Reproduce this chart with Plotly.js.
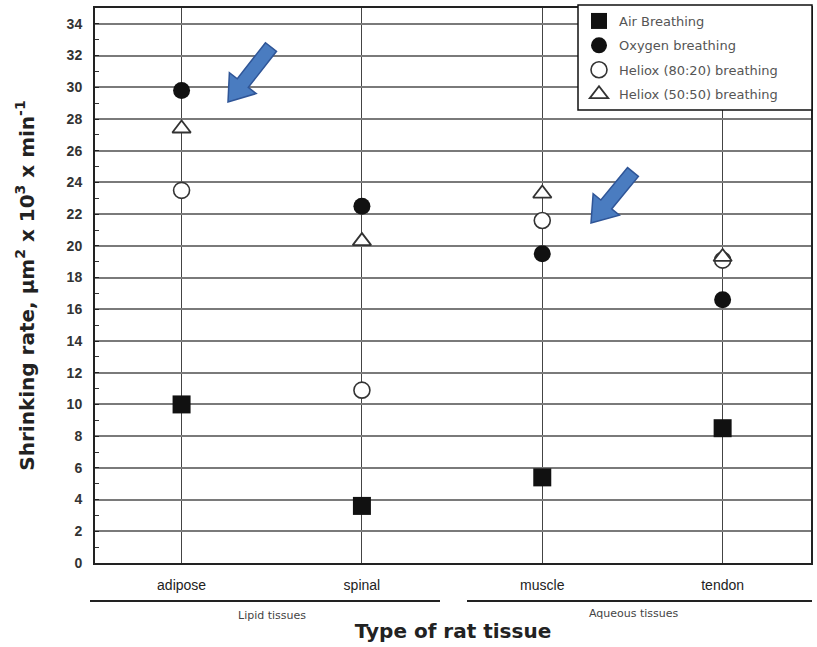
<!DOCTYPE html>
<html>
<head>
<meta charset="utf-8">
<script src="https://cdn.plot.ly/plotly-3.0.1.min.js"></script>
<style>html,body{margin:0;padding:0;background:#fff;}#chart{width:817px;height:647px;}</style>
</head>
<body>
<div id="chart"></div>
<script>
// ---- data ----
const categories = ["adipose", "spinal", "muscle", "tendon"];
const airBreathing = [10.0, 3.6, 5.4, 8.5];
const oxygenBreathing = [29.8, 22.5, 19.5, 16.6];
const heliox8020 = [23.5, 10.9, 21.6, 19.1];
const heliox5050 = [27.4, 20.3, 23.3, 19.3];
const seriesNames = ["Air Breathing", "Oxygen breathing", "Heliox (80:20) breathing", "Heliox (50:50) breathing"];
const groupLabels = ["Lipid tissues", "Aqueous tissues"];
const yTickVals = [0,2,4,6,8,10,12,14,16,18,20,22,24,26,28,30,32,34];

// ---- layout helpers ----
const L = 95, R = 811, T = 8, B = 563;
const px = x => (x - L) / (R - L);
const py = y => (B - y) / (B - T);

function arrowPath(tx, ty, hx, hy) {
  const dx = hx - tx, dy = hy - ty, len = Math.hypot(dx, dy);
  const ux = dx / len, uy = dy / len, nx = -uy, ny = ux;
  const sw = 7, hw = 17, hl = 24;
  const bx = hx - ux * hl, by = hy - uy * hl;
  const pts = [
    [tx + nx * sw, ty + ny * sw], [bx + nx * sw, by + ny * sw], [bx + nx * hw, by + ny * hw],
    [hx, hy], [bx - nx * hw, by - ny * hw], [bx - nx * sw, by - ny * sw], [tx - nx * sw, ty - ny * sw]
  ];
  return 'M ' + pts.map(p => px(p[0]).toFixed(5) + ',' + py(p[1]).toFixed(5)).join(' L ') + ' Z';
}

const mk = '#111';
const traces = [
  {name: seriesNames[0], legendgroup: 'g0', x: categories, y: airBreathing, type: 'scatter', mode: 'markers',
   marker: {symbol: 'square', size: 18, color: mk}},
  {name: seriesNames[1], legendgroup: 'g1', x: categories, y: oxygenBreathing, type: 'scatter', mode: 'markers',
   marker: {symbol: 'circle', size: 17, color: mk}},
  {name: seriesNames[2], legendgroup: 'g2', x: categories, y: heliox8020, type: 'scatter', mode: 'markers',
   marker: {symbol: 'circle', size: 16, color: '#fff', line: {color: '#333', width: 1.6}}},
  {name: seriesNames[3], legendgroup: 'g3', x: categories, y: heliox5050, type: 'scatter', mode: 'markers',
   marker: {symbol: 'triangle-up', size: 16, color: '#fff', line: {color: '#333', width: 1.8}}}
];

const titleFont = 'DejaVu Sans, Verdana, sans-serif';

const layout = {
  width: 817, height: 647,
  margin: {l: L, r: 817 - R, t: T, b: 647 - B},
  paper_bgcolor: '#fff', plot_bgcolor: '#fff',
  font: {family: 'Liberation Sans, Arial, sans-serif', color: '#222'},
  showlegend: true,
  legend: {
    x: px(579), y: py(6), xanchor: 'left', yanchor: 'top',
    bgcolor: 'rgba(0,0,0,0)', borderwidth: 0, tracegroupgap: 4.5,
    font: {family: titleFont, size: 13, color: '#555'}
  },
  xaxis: {
    type: 'category', range: [-0.48, 3.49],
    showgrid: true, gridcolor: '#444', gridwidth: 1,
    showline: true, linecolor: '#222', linewidth: 2, mirror: true,
    ticks: '', zeroline: false, ticklabelstandoff: 8,
    tickfont: {family: 'Liberation Sans Narrow, Arial Narrow, sans-serif', size: 14, color: '#222'},
    title: {text: 'Type of rat tissue', font: {family: titleFont, size: 20, weight: 'bold', color: '#222'}, standoff: 32},
    automargin: false
  },
  xaxis2: {
    overlaying: 'x', anchor: 'y', type: 'linear', range: [-0.48, 3.49],
    tickvals: [0.5, 1.5, 2.5], ticks: 'inside', ticklen: 5, tickcolor: '#333', tickwidth: 1.2,
    showticklabels: false, showgrid: false, showline: false, zeroline: false
  },
  yaxis: {
    range: [0, 35], tickvals: yTickVals,
    showgrid: true, gridcolor: '#7a7a7a', gridwidth: 2,
    showline: true, linecolor: '#222', linewidth: 2, mirror: true,
    ticks: 'inside', ticklen: 4, tickcolor: '#222', ticklabelstandoff: 8,
    minor: {dtick: 1, tick0: 1, ticks: 'inside', ticklen: 4, tickcolor: '#333', showgrid: false},
    zeroline: false,
    tickfont: {size: 14, weight: 'bold', color: '#333'},
    title: {text: 'Shrinking rate, μm<sup>2</sup> x 10<sup>3</sup> x min<sup>-1</sup>',
            font: {family: titleFont, size: 20, weight: 'bold', color: '#222'}, standoff: 27},
    automargin: false
  },
  shapes: [
    {type: 'rect', xref: 'paper', yref: 'paper', x0: px(578), x1: px(812), y0: py(110), y1: py(5),
     fillcolor: '#fff', line: {color: '#111', width: 1.5}, layer: 'above'},
    {type: 'line', xref: 'paper', yref: 'paper', x0: px(90), x1: px(440), y0: py(601), y1: py(601),
     line: {color: '#222', width: 2}},
    {type: 'line', xref: 'paper', yref: 'paper', x0: px(467), x1: px(812), y0: py(601), y1: py(601),
     line: {color: '#222', width: 2}},
    {type: 'path', xref: 'paper', yref: 'paper', path: arrowPath(271, 47, 228, 102),
     fillcolor: '#4a7cc0', line: {color: '#2f5597', width: 1.5}},
    {type: 'path', xref: 'paper', yref: 'paper', path: arrowPath(633, 172, 591, 223),
     fillcolor: '#4a7cc0', line: {color: '#2f5597', width: 1.5}}
  ],
  annotations: [
    {text: groupLabels[0], xref: 'paper', yref: 'paper', x: px(272), y: py(615), showarrow: false,
     font: {family: titleFont, size: 11, color: '#444'}, xanchor: 'center', yanchor: 'middle'},
    {text: groupLabels[1], xref: 'paper', yref: 'paper', x: px(634), y: py(613), showarrow: false,
     font: {family: titleFont, size: 11, color: '#444'}, xanchor: 'center', yanchor: 'middle'}
  ]
};

Plotly.newPlot('chart', traces, layout, {displayModeBar: false, staticPlot: true});
</script>
</body>
</html>
